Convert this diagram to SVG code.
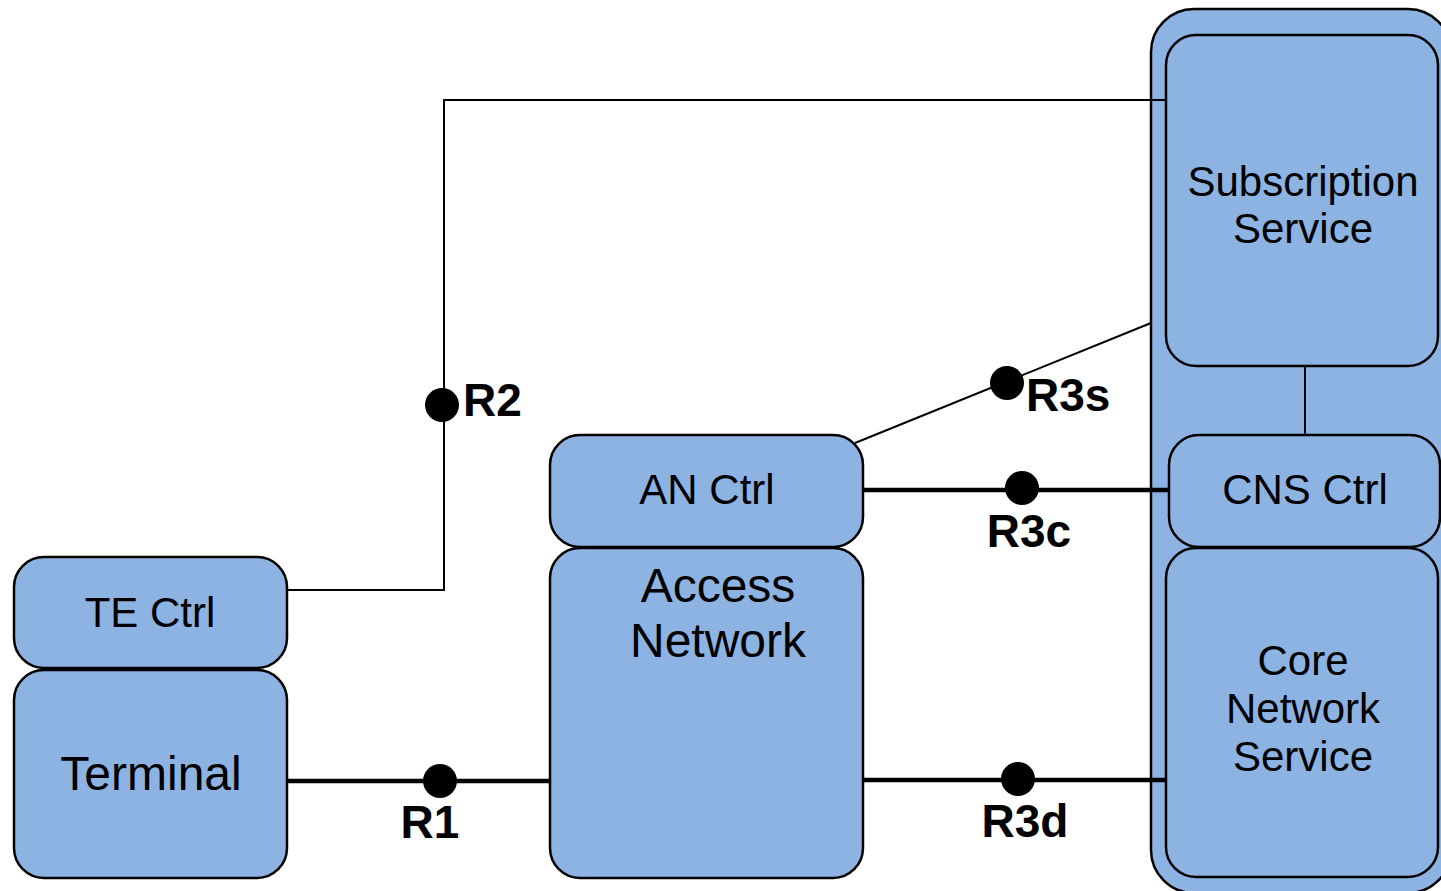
<svg xmlns="http://www.w3.org/2000/svg" width="1441" height="891" viewBox="0 0 1441 891">
<style>
.box{fill:#8DB3E2;stroke:#000;stroke-width:2.5}
.t{font-family:"Liberation Sans",Arial,sans-serif;font-size:42px;fill:#000;text-anchor:middle}
.big{font-size:48px}
.lbl{font-family:"Liberation Sans",Arial,sans-serif;font-size:46px;font-weight:bold;fill:#000}
.thin{stroke:#000;stroke-width:2;fill:none}
.thick{stroke:#000;stroke-width:4.5;fill:none}
.dot{fill:#000}
</style>
<rect width="1441" height="891" fill="#fff"/>
<g id="core-container"><rect class="box" x="1151" y="9" width="300" height="884" rx="43"/></g>
<g id="connectors">
<polyline class="thin" points="287,590 444,590 444,100 1166,100"/>
<line class="thin" x1="855" y1="443" x2="1151" y2="323"/>
<line class="thin" x1="1305" y1="366" x2="1305" y2="435"/>
<line class="thick" x1="863" y1="490" x2="1169" y2="490"/>
<line class="thick" x1="287" y1="781" x2="550" y2="781"/>
<line class="thick" x1="863" y1="780" x2="1166" y2="780"/>
<circle class="dot" cx="442" cy="405" r="17"/>
<circle class="dot" cx="1007" cy="383" r="17"/>
<circle class="dot" cx="1022" cy="488" r="17"/>
<circle class="dot" cx="440" cy="781" r="17"/>
<circle class="dot" cx="1018" cy="779" r="17"/>
<text class="lbl" x="463" y="416">R2</text>
<text class="lbl" x="1026" y="411">R3s</text>
<text class="lbl" x="1029" y="547" text-anchor="middle">R3c</text>
<text class="lbl" x="430" y="838" text-anchor="middle">R1</text>
<text class="lbl" x="1025" y="837" text-anchor="middle">R3d</text>
</g>
<g id="subscription-service"><rect class="box" x="1166" y="35" width="272" height="331" rx="30"/>
<text class="t" x="1303" y="196">Subscription</text><text class="t" x="1303" y="243">Service</text></g>
<g id="cns-ctrl"><rect class="box" x="1169" y="435" width="271" height="112" rx="30"/>
<text class="t" x="1305" y="504">CNS Ctrl</text></g>
<g id="core-network-service"><rect class="box" x="1166" y="548" width="272" height="329" rx="30"/>
<text class="t" x="1303" y="675">Core</text><text class="t" x="1303" y="723">Network</text><text class="t" x="1303" y="771">Service</text></g>
<g id="an-ctrl"><rect class="box" x="550" y="435" width="313" height="112" rx="30"/>
<text class="t" x="707" y="504">AN Ctrl</text></g>
<g id="access-network"><rect class="box" x="550" y="548" width="313" height="330" rx="30"/>
<text class="t big" x="718" y="602">Access</text><text class="t big" x="718" y="657">Network</text></g>
<g id="te-ctrl"><rect class="box" x="14" y="557" width="273" height="111" rx="30"/>
<text class="t" x="150" y="627">TE Ctrl</text></g>
<g id="terminal"><rect class="box" x="14" y="670" width="273" height="208" rx="30"/>
<text class="t big" x="151" y="790">Terminal</text></g>
</svg>
